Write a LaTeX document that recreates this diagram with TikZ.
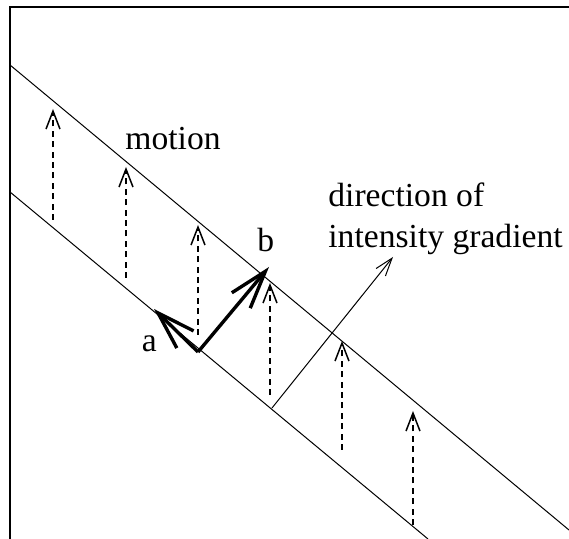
\documentclass[tikz,border=0pt]{standalone}
\usepackage{fontspec}
\setmainfont{Liberation Serif}
\usetikzlibrary{arrows.meta}
\tikzset{
    frameline/.style={line width=0.9pt},
    bandline/.style={line width=0.5pt},
    motionarrow/.style={-{Straight Barb[length=9pt,width=7pt]}, line width=0.75pt, dash pattern=on 3pt off 2.2pt},
    vecarrow/.style={-{Straight Barb[length=19pt,width=12pt]}, line width=1.7pt},
    gradarrow/.style={-{Straight Barb[length=9pt,width=6pt]}, line width=0.5pt},
    txt/.style={inner sep=0pt, anchor=base west, font=\fontsize{16.8}{20.5}\selectfont},
}
\begin{document}
\begin{tikzpicture}[x=0.5pt, y=0.5pt]
    \useasboundingbox (0,0) rectangle (569,539);
    % frame and the two edges of the band
    \draw[frameline] (10,0) -- (10,532) -- (569,532);
    \coordinate (upA) at (10,474);
    \coordinate (upB) at (569,9);
    \coordinate (loA) at (10,347);
    \coordinate (loB) at (428,0);
    \draw[bandline] (upA) -- (upB);
    \draw[bandline] (loA) -- (loB);
    % motion arrows
    \foreach \i/\x/\ys/\ye in {1/53/319/430, 2/126/261/372, 3/198/204/314, 4/270/144/256, 5/342/89/198, 6/413/14/128}{
        \coordinate (ms\i) at (\x,\ys);
        \coordinate (me\i) at (\x,\ye);
        \draw[motionarrow] (ms\i) -- (me\i);
    }
    % the two component vectors
    \coordinate (vtx) at (198,187);
    \coordinate (atip) at (154,230);
    \coordinate (btip) at (269,272);
    \draw[vecarrow] (vtx) -- (atip);
    \draw[vecarrow] (vtx) -- (btip);
    \node[txt] (alab) at (141.5,187) {a};
    \node[txt] (blab) at (257,287) {b};
    % gradient direction
    \coordinate (gs) at (272,131);
    \coordinate (ge) at (393,282);
    \draw[gradarrow] (gs) -- (ge);
    \node[txt] (motion) at (125,389) {motion};
    \node[txt] (dirtext) at (328,332) {direction of};
    \node[txt] (gradtext) at (328,291) {intensity gradient};
\end{tikzpicture}
\end{document}
